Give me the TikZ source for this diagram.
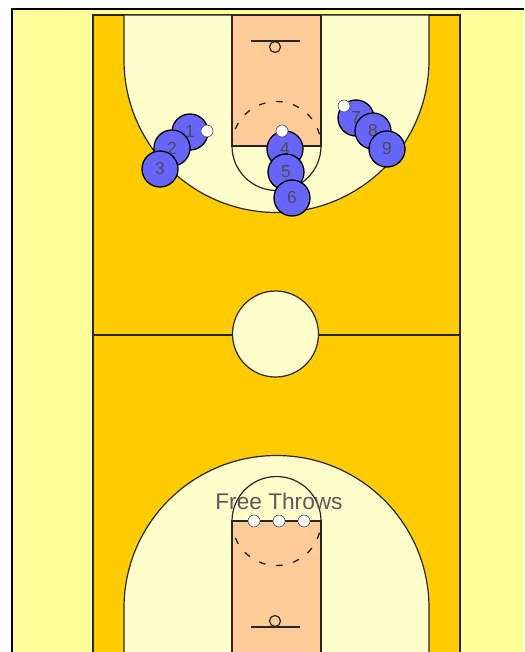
\documentclass[tikz,border=0pt]{standalone}
\usepackage{fontspec}
\setmainfont{Liberation Sans}
\definecolor{fondo}{HTML}{FFFF99}
\definecolor{cancha}{HTML}{FFCC00}
\definecolor{zona}{HTML}{FFFFCC}
\definecolor{llave}{HTML}{FFCC99}
\definecolor{jugador}{HTML}{6666FF}
\tikzset{
	linea/.style={line width=0.9pt, black!85},
	punteada/.style={line width=1pt, black!85, dash pattern=on 5pt off 8pt},
	jugadorbox/.style={circle, draw=black, line width=1pt, fill=jugador, minimum size=27pt, inner sep=0pt, text=black!70, font=\fontsize{13}{13}\selectfont},
	balon/.style={circle, draw=black!70, line width=0.5pt, fill=white, minimum size=9pt, inner sep=0pt}
}
\begin{document}
\begin{tikzpicture}[x=0.75pt,y=-0.75pt]
	\useasboundingbox (0,0) rectangle (524,652);
	\clip (0,0) rectangle (524,652);
	% Fondo
	\fill[fondo] (12,9) rectangle (524,652);
	\draw[line width=1.2pt] (12,652) -- (12,9) -- (524,9);
	% Cancha
	\draw[linea, fill=cancha] (93,15) rectangle (460,700);
	\draw[linea] (93,335) -- (460,335);
	\draw[linea, fill=zona] (275.5,334) circle (43);
	
	% Mitad superior
	\draw[linea, fill=zona] (124,15) -- (124,60) arc[start angle=180, end angle=0, radius=152.5] -- (429,15) -- cycle;
	\draw[linea, fill=llave] (232,15) rectangle (321,146);
	\draw[linea] (232,146) arc[start angle=180, end angle=0, radius=44.5];
	\draw[punteada] (232,146) arc[start angle=180, end angle=360, radius=44.5];
	\draw[linea] (251,41) -- (300,41);
	\draw[linea] (275,47) circle (5.5);
	
	% Mitad inferior
	\draw[linea, fill=zona] (124,700) -- (124,608) arc[start angle=180, end angle=360, radius=152.5] -- (429,700) -- cycle;
	\draw[linea, fill=llave] (232,521) rectangle (321,700);
	\draw[linea] (232,521) arc[start angle=180, end angle=360, radius=44.5];
	\draw[punteada] (232,521) arc[start angle=180, end angle=0, radius=44.5];
	\draw[linea] (251,627) -- (300,627);
	\draw[linea] (275,621) circle (5.5);
	
	% Jugadores izquierda
	\node[jugadorbox] (j1) at (190,132) {1};
	\node[jugadorbox] (j2) at (172,148) {2};
	\node[jugadorbox] (j3) at (160,169) {3};
	% Jugadores centro
	\node[jugadorbox] (j4) at (285,149) {4};
	\node[jugadorbox] (j5) at (286,172) {5};
	\node[jugadorbox] (j6) at (292,198) {6};
	% Jugadores derecha
	\node[jugadorbox] (j7) at (356,118) {7};
	\node[jugadorbox] (j8) at (373,131) {8};
	\node[jugadorbox] (j9) at (387,149) {9};
	
	% Balones
	\node[balon] (b1) at (207,131) {};
	\node[balon] (b2) at (282,131) {};
	\node[balon] (b3) at (344,106) {};
	\node[balon] (b4) at (254,521) {};
	\node[balon] (b5) at (279,521) {};
	\node[balon] (b6) at (304,521) {};
	
	% Texto
	\node[text=black!65, font=\fontsize{17}{17}\selectfont] (tiros) at (279,501) {Free Throws};
\end{tikzpicture}
\end{document}
